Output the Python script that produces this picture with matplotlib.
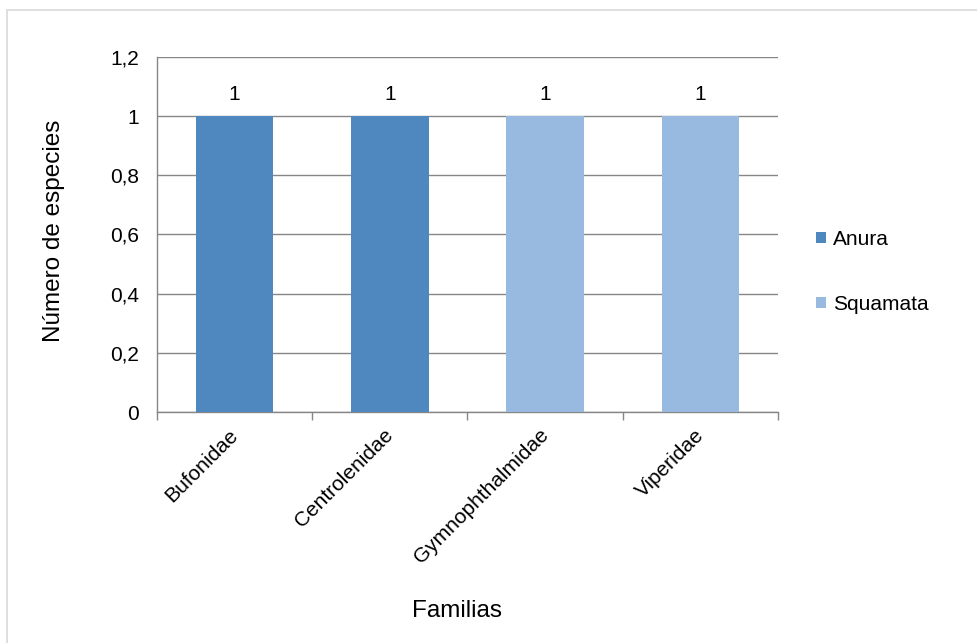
import matplotlib
matplotlib.use("Agg")
import matplotlib.pyplot as plt
from matplotlib.patches import Patch, Rectangle

families = ["Bufonidae", "Centrolenidae", "Gymnophthalmidae", "Viperidae"]
orders = ["Anura", "Anura", "Squamata", "Squamata"]
values = [1, 1, 1, 1]
order_names = ["Anura", "Squamata"]
order_colors = {"Anura": "#4F88BE", "Squamata": "#98B9E0"}
yticks = [0, 0.2, 0.4, 0.6, 0.8, 1.0, 1.2]
ytick_labels = ["0", "0,2", "0,4", "0,6", "0,8", "1", "1,2"]

plt.rcParams['font.family'] = ['Liberation Sans', 'DejaVu Sans']

W, H = 978, 643
fig = plt.figure(figsize=(W/100, H/100), dpi=100)
# outer border (extends past right and bottom edges)
fig.patches.append(Rectangle((7.5/W, -0.05), 1.1, 1.05 - 9.5/H, transform=fig.transFigure,
                             fill=False, edgecolor="#D9D9D9", linewidth=1.2))

left, right, top, bottom = 157, 778, 57, 412
ax = fig.add_axes([left/W, 1 - bottom/H, (right-left)/W, (bottom-top)/H])

x = list(range(len(families)))
colors = [order_colors[o] for o in orders]
ax.bar(x, values, width=0.5, color=colors, zorder=3)
for xi, v in zip(x, values):
    ax.text(xi, v + 0.054, f"{v:g}", ha="center", va="baseline", fontsize=15, color="black")

ax.set_xlim(-0.5, len(families) - 0.5)
ax.set_ylim(0, 1.2)
ax.set_yticks(yticks)
ax.set_yticklabels(ytick_labels, fontsize=15)
ax.yaxis.grid(True, color="#878787", linewidth=1, zorder=0)
ax.tick_params(axis="y", length=0, pad=13)

ax.set_xticks([i + 0.5 for i in range(-1, len(families))])
ax.set_xticklabels([])
ax.tick_params(axis="x", length=6, color="#878787", width=1)
for xi, name in zip(x, families):
    ax.text(xi - 0.04, -0.045, name, rotation=45, ha="right", va="top",
            rotation_mode="anchor", fontsize=15)

for s in ["top", "right"]:
    ax.spines[s].set_visible(False)
for s in ["left", "bottom"]:
    ax.spines[s].set_color("#878787")
    ax.spines[s].set_linewidth(1)

fig.text(54/W, 1 - 231/H, "Número de especies", rotation=90, ha="center", va="center", fontsize=17.5)
fig.text(457/W, 1 - 617/H, "Familias", ha="center", va="baseline", fontsize=17.5)

handles = [Patch(facecolor=order_colors[o], edgecolor="none") for o in order_names]
fig.legend(handles, order_names, loc="upper left", bbox_to_anchor=(816/W, 1 - 230/H),
           frameon=False, fontsize=15, handlelength=0.48, handleheight=0.48,
           handletextpad=0.34, labelspacing=2.2, borderpad=0, borderaxespad=0)

fig.savefig("out.png", dpi=100)
